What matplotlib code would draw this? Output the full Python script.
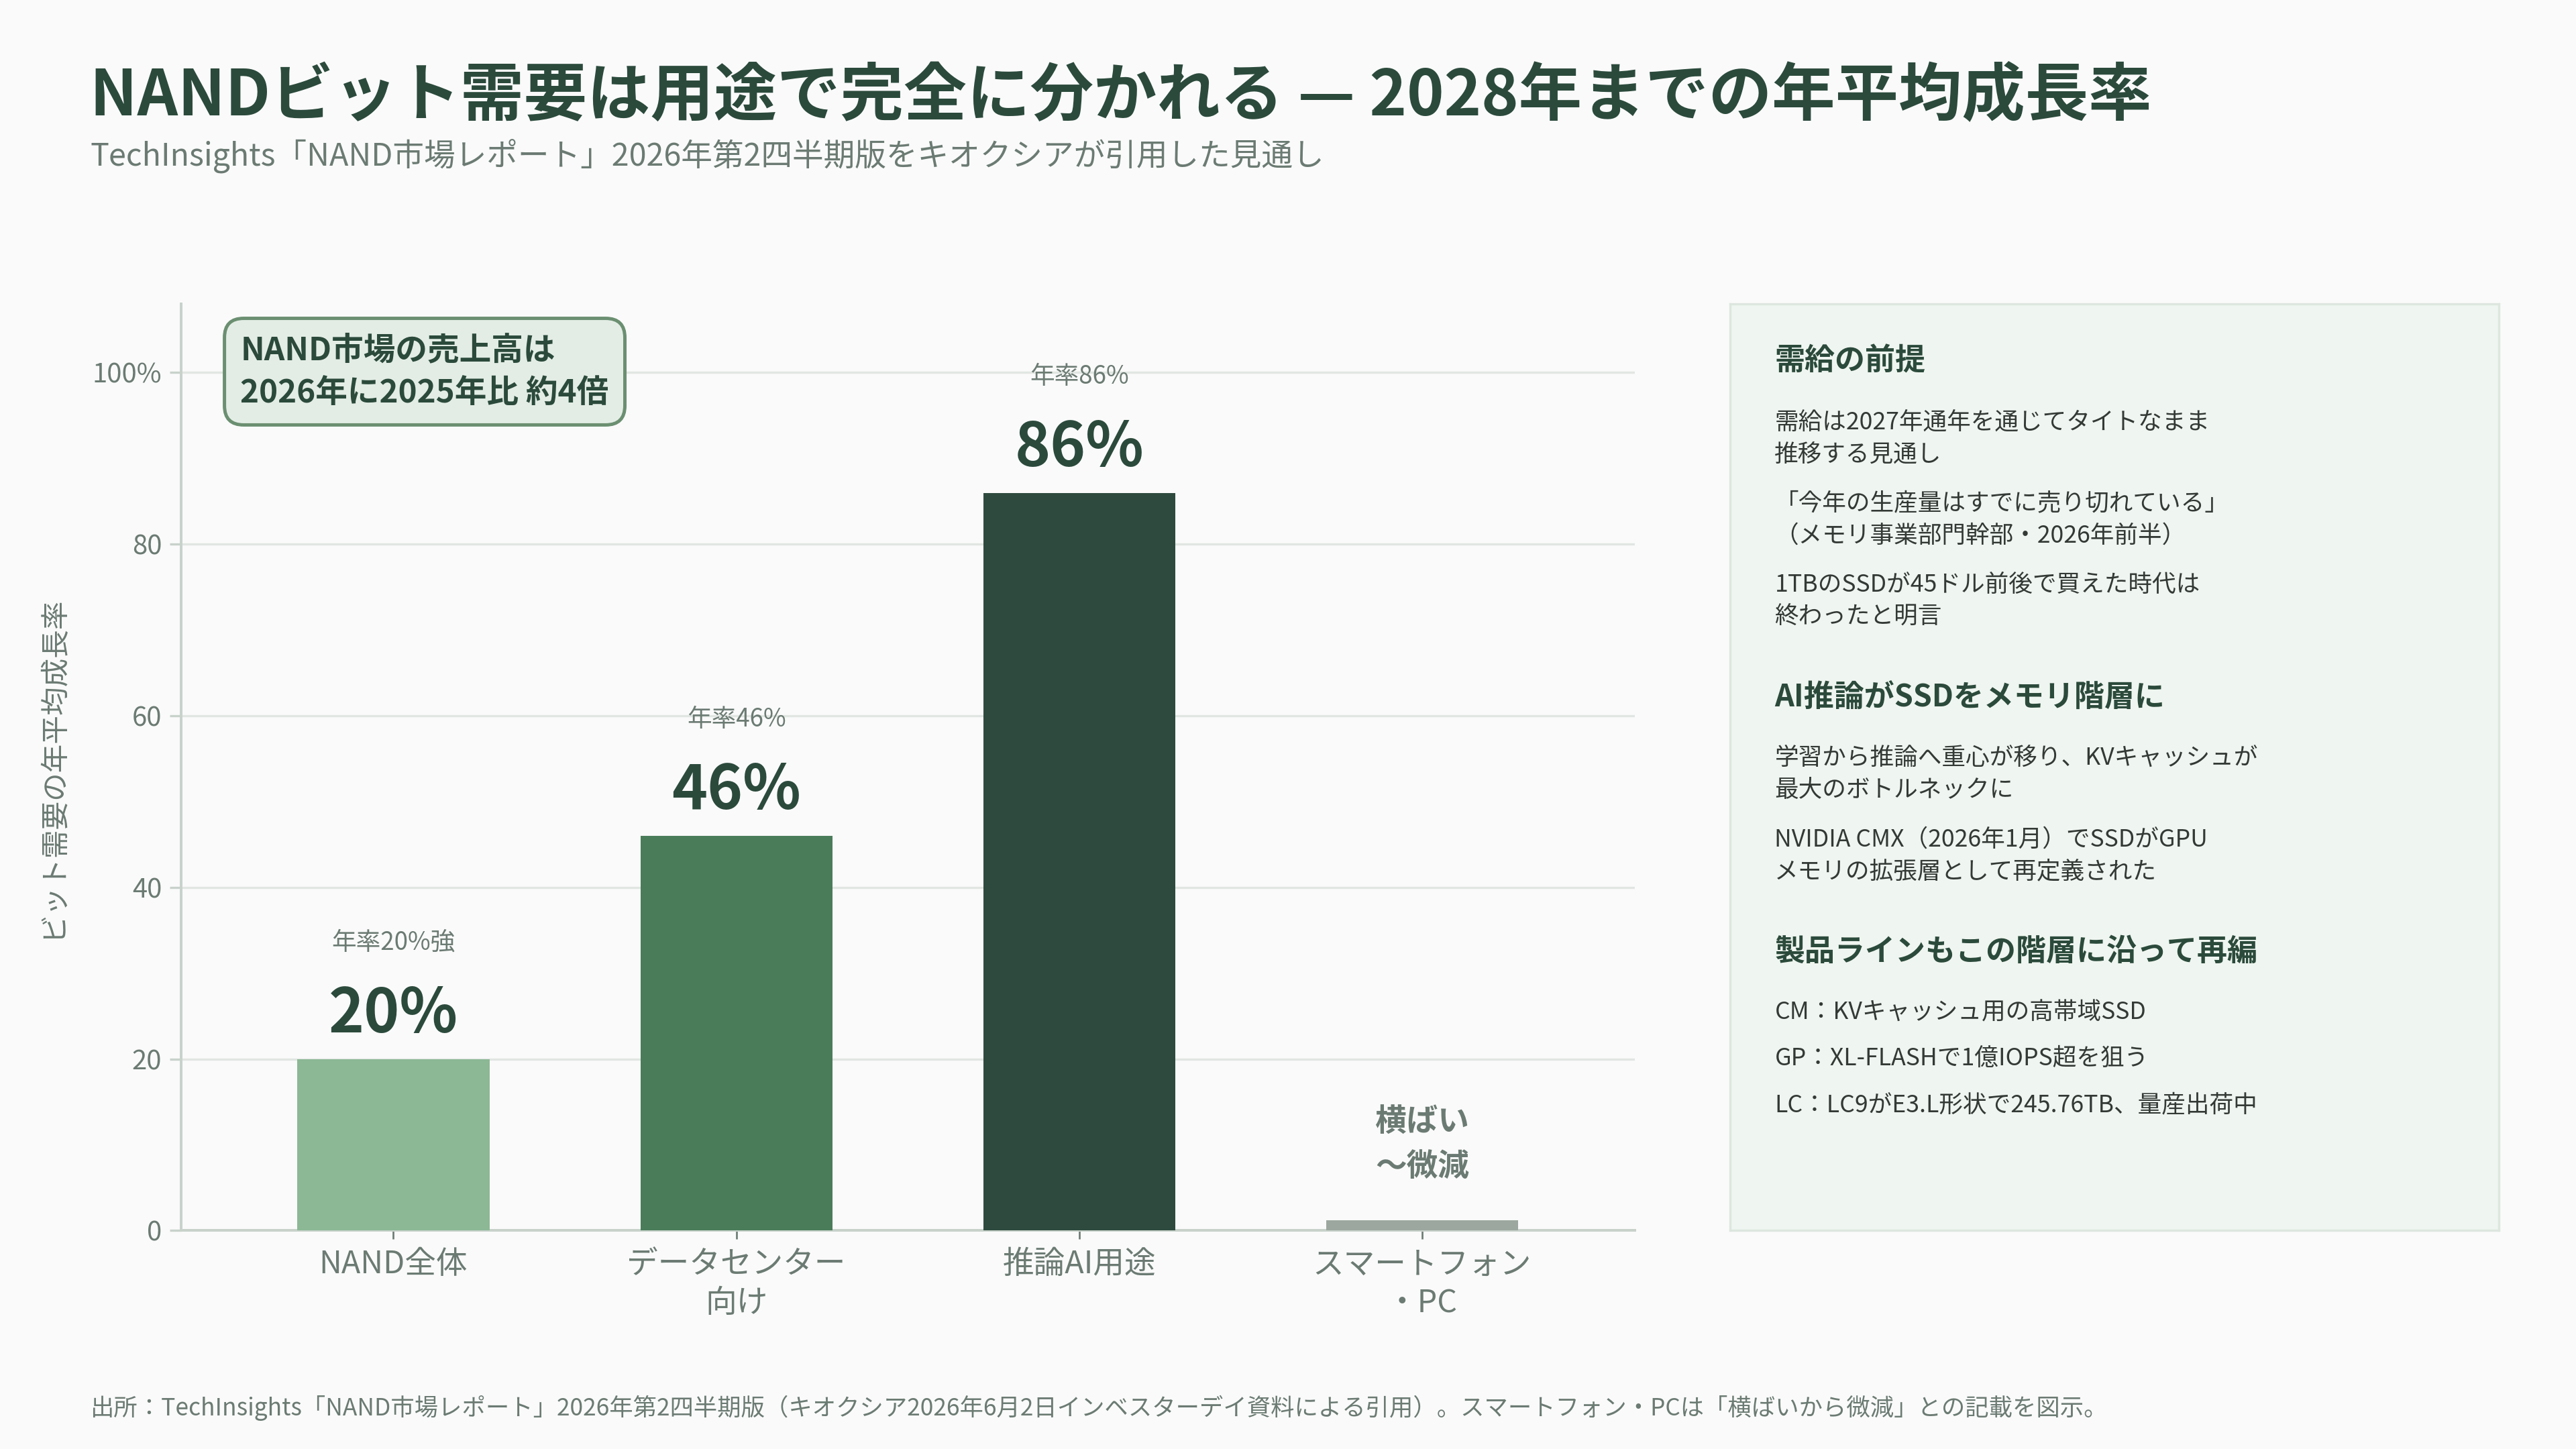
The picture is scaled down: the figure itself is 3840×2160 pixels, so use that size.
import matplotlib
matplotlib.use("Agg")
import matplotlib.pyplot as plt
from matplotlib.ticker import FuncFormatter

plt.rcParams['font.family'] = ['Noto Sans CJK JP', 'DejaVu Sans']

# data
categories = ["NAND全体", "データセンター\n向け", "推論AI用途", "スマートフォン\n・PC"]
cagr = [20, 46, 86, 1.2]
value_labels = ["20%", "46%", "86%", None]
rate_notes = ["年率20%強", "年率46%", "年率86%", None]
flat_note = "横ばい\n〜微減"
bar_colors = ["#8cb895", "#4a7c59", "#2e4a3e", "#9ca89f"]
yticks = [0, 20, 40, 60, 80, 100]

title = "NANDビット需要は用途で完全に分かれる — 2028年までの年平均成長率"
subtitle = "TechInsights「NAND市場レポート」2026年第2四半期版をキオクシアが引用した見通し"
ylabel = "ビット需要の年平均成長率"
callout = "NAND市場の売上高は\n2026年に2025年比 約4倍"
footer = ("出所：TechInsights「NAND市場レポート」2026年第2四半期版（キオクシア2026年6月2日インベスターデイ資料による引用）。"
          "スマートフォン・PCは「横ばいから微減」との記載を図示。")

panel_sections = [
    ("需給の前提", [
        ["需給は2027年通年を通じてタイトなまま", "推移する見通し"],
        ["「今年の生産量はすでに売り切れている」", "（メモリ事業部門幹部・2026年前半）"],
        ["1TBのSSDが45ドル前後で買えた時代は", "終わったと明言"],
    ]),
    ("AI推論がSSDをメモリ階層に", [
        ["学習から推論へ重心が移り、KVキャッシュが", "最大のボトルネックに"],
        ["NVIDIA CMX（2026年1月）でSSDがGPU", "メモリの拡張層として再定義された"],
    ]),
    ("製品ラインもこの階層に沿って再編", [
        ["CM：KVキャッシュ用の高帯域SSD"],
        ["GP：XL-FLASHで1億IOPS超を狙う"],
        ["LC：LC9がE3.L形状で245.76TB、量産出荷中"],
    ]),
]

DARK = "#2b4a3c"
GRAY = "#6b7b73"
BG = "#fafafa"

fig = plt.figure(figsize=(16, 9), dpi=240, facecolor=BG)

# title block
fig.text(0.035, 0.921, title, fontsize=28.3, fontweight='bold', color=DARK, va='baseline')
fig.text(0.035, 0.886, subtitle, fontsize=14, color=GRAY, va='baseline')
fig.text(0.035, 0.023, footer, fontsize=10.6, color=GRAY, va='baseline')

# main bar chart
ax = fig.add_axes([0.0702, 0.1508, 0.5644, 0.6394], facecolor=BG)
x = range(len(categories))
ax.bar(x, cagr, width=0.56, color=bar_colors, zorder=3)

for i, v in enumerate(cagr):
    if value_labels[i]:
        ax.annotate(value_labels[i], (i, v), xytext=(0, 20), textcoords='offset points',
                    ha='center', va='center', fontsize=27, fontweight='bold', color=DARK)
    if rate_notes[i]:
        ax.annotate(rate_notes[i], (i, v), xytext=(0, 52), textcoords='offset points',
                    ha='center', va='center', fontsize=11, color=GRAY)
ax.annotate(flat_note, (3, cagr[3]), xytext=(0, 34), textcoords='offset points',
            ha='center', va='center', fontsize=14, fontweight='bold', color=GRAY,
            linespacing=1.5)

ax.set_xlim(-0.62, 3.62)
ax.set_ylim(0, 108)
ax.set_yticks(yticks)
ax.yaxis.set_major_formatter(FuncFormatter(lambda v, p: f"{v:.0f}%" if v == 100 else f"{v:.0f}"))
ax.set_xticks(list(x))
ax.set_xticklabels(categories, linespacing=1.25)
ax.tick_params(axis='y', labelsize=12, labelcolor=GRAY, color="#c8d2cb", length=5, width=1)
ax.tick_params(axis='x', labelsize=14, labelcolor=GRAY, color=GRAY, length=4, width=0.8, pad=4)
ax.grid(axis='y', color="#e1e6e2", linewidth=1.0, zorder=0)
for side in ['top', 'right']:
    ax.spines[side].set_visible(False)
for side in ['left', 'bottom']:
    ax.spines[side].set_color("#c8d2cb")
    ax.spines[side].set_linewidth(1.2)

fig.text(0.0204, 0.4705, ylabel, rotation=90, fontsize=12.8, color=GRAY, ha='center', va='center')

ax.text(0.041, 0.927, callout, transform=ax.transAxes, fontsize=14.3, fontweight='bold',
        color=DARK, ha='left', va='center', linespacing=1.4, zorder=5,
        bbox=dict(boxstyle='round,pad=0.5,rounding_size=0.6', facecolor="#e3ede5",
                  edgecolor="#6b8f71", linewidth=1.5))

# side panel
pax = fig.add_axes([0.6716, 0.1508, 0.2985, 0.6394], facecolor="#eff5f0")
pax.set_xticks([])
pax.set_yticks([])
for s in pax.spines.values():
    s.set_color("#dde6df")
    s.set_linewidth(1.0)

ph = 564.0  # panel height in layout px
cursor = 220.0 - 185.0
for k, (head, items) in enumerate(panel_sections):
    if k > 0:
        cursor += 49
    pax.text(0.058, 1 - cursor / ph, head, fontsize=13.5, fontweight='bold', color=DARK,
             ha='left', va='center', transform=pax.transAxes)
    cursor += 37
    for j, lines in enumerate(items):
        if j > 0:
            cursor += 30 if len(lines) > 1 or len(items[j - 1]) > 1 else 28
        for n, line in enumerate(lines):
            if n > 0:
                cursor += 19.5
            pax.text(0.058, 1 - cursor / ph, line, fontsize=10.7, color="#333a36",
                     ha='left', va='center', transform=pax.transAxes)

fig.savefig("out.png", dpi=240, facecolor=BG)
